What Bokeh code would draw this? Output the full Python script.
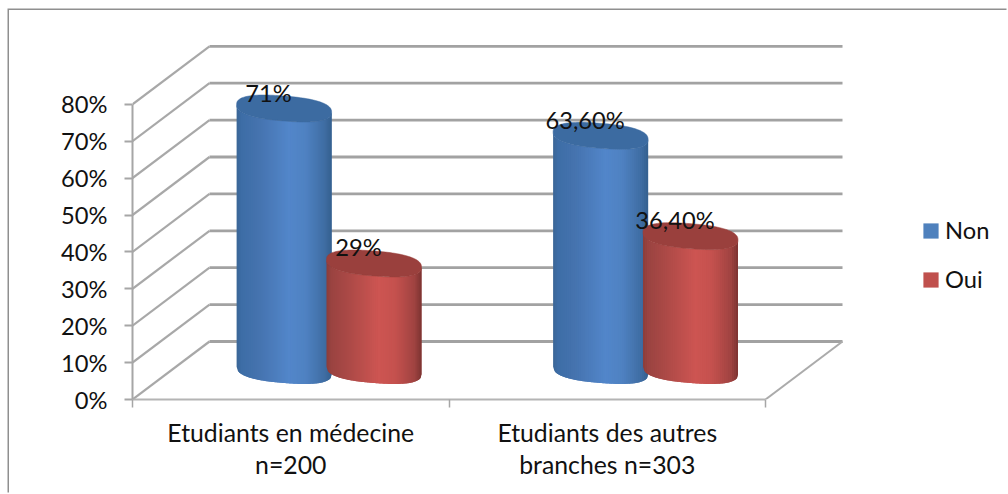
import numpy as np
from bokeh.core.properties import value
from bokeh.embed import file_html
from bokeh.models import FixedTicker, Legend, LegendItem, LinearAxis, Range1d
from bokeh.plotting import figure
from bokeh.resources import INLINE

# Survey results, in percent
categories = ["Etudiants en médecine\nn=200", "Etudiants des autres\nbranches n=303"]
series_names = ["Non", "Oui"]
non_values = [71.0, 63.6]
oui_values = [29.0, 36.4]
value_labels = [["71%", "63,60%"], ["29%", "36,40%"]]
percent_ticks = [0, 10, 20, 30, 40, 50, 60, 70, 80]

PX_PER_CAT = 316.5
PX_PER_PCT = 3.69
FONT = "Lato"
FONT_SIZE = "23.7px"
CAT_FONT_SIZE = "24.8px"
TEXT = "#111111"
MARGIN_TOP = 10
MARGIN_LEFT = 9

p = figure(width=1008 - MARGIN_LEFT, height=494 - MARGIN_TOP,
           output_backend="svg", toolbar_location=None,
           x_range=Range1d(0, (1008 - 132) / PX_PER_CAT),
           y_range=Range1d(0, (399 - MARGIN_TOP) / PX_PER_PCT),
           x_axis_type=None, y_axis_type=None,
           min_border_left=132 - MARGIN_LEFT, min_border_right=0,
           min_border_top=0, min_border_bottom=95,
           margin=(MARGIN_TOP, 0, 0, MARGIN_LEFT),
           styles={"box-shadow": "-1.5px -1.5px 0 #8f8f8f"})
p.outline_line_color = None
p.grid.visible = False
p.background_fill_color = "white"
p.border_fill_color = "white"

# Value axis on the front edge of the left wall
y_axis = LinearAxis(ticker=FixedTicker(ticks=percent_ticks), bounds=(0, 80),
                    major_label_overrides={t: f"{t}%" for t in percent_ticks})
y_axis.axis_line_color = "#a6a6a6"
y_axis.axis_line_width = 2
y_axis.major_tick_line_color = "#a6a6a6"
y_axis.major_tick_line_width = 2
y_axis.major_tick_out = 8
y_axis.major_tick_in = 0
y_axis.minor_tick_line_color = None
y_axis.major_label_standoff = 17
y_axis.major_label_text_font = FONT
y_axis.major_label_text_font_size = FONT_SIZE
y_axis.major_label_text_color = TEXT
p.add_layout(y_axis, "left")

# Category separators along the front of the floor
x_axis = LinearAxis(ticker=FixedTicker(ticks=[0, 1, 2]), bounds=(0, 2),
                    major_label_overrides={0: "", 1: "", 2: ""})
x_axis.axis_line_color = "#b4b4b4"
x_axis.axis_line_width = 2
x_axis.major_tick_line_color = "#a6a6a6"
x_axis.major_tick_line_width = 1.5
x_axis.major_tick_out = 8
x_axis.major_tick_in = 0
x_axis.minor_tick_line_color = None
x_axis.major_label_text_font_size = "1px"
x_axis.major_label_standoff = 0
p.add_layout(x_axis, "below")

# Category names, centred between the separators
cat_axis = LinearAxis(ticker=FixedTicker(ticks=[0.5, 1.5]),
                      major_label_overrides={0.5: categories[0], 1.5: categories[1]})
cat_axis.axis_line_color = None
cat_axis.major_tick_line_color = None
cat_axis.minor_tick_line_color = None
cat_axis.major_label_standoff = 4
cat_axis.major_label_text_font = FONT
cat_axis.major_label_text_font_size = CAT_FONT_SIZE
cat_axis.major_label_text_color = TEXT
cat_axis.major_label_text_line_height = 1.13
p.add_layout(cat_axis, "below")

# Depth of the box, in data units
DX = 77 / PX_PER_CAT
DY = 58 / PX_PER_PCT

# Walls: each level runs back from the axis, then across the back
for t in percent_ticks:
    p.line([0, DX], [t, t + DY], line_color="#a8a8a8", line_width=2.2)
    p.line([DX, 2 + DX], [t + DY, t + DY], line_color="#a2a2a2", line_width=2.8)
p.line([2, 2 + DX], [0, DY], line_color="#ababab", line_width=2)

# Cylinders are built from narrow shaded strips plus a darker top cap
A = 47.5 / PX_PER_CAT
B = 12.5 / PX_PER_PCT
TILT = 3.8 / PX_PER_PCT
ROUND = 2.5  # above 2 the rims get fuller shoulders than a plain ellipse
BASE = 29 / PX_PER_PCT
OFFSETS = [0.479, 0.763]
STRIPS = 48

SHADES = {
    "Non": ([-1, -0.9, -0.5, 0.1, 0.45, 0.85, 1],
            ["#3a6596", "#3d6da6", "#4674b0", "#5286ca", "#4f82c2", "#3f6da3", "#35608f"],
            "#3c6ba1"),
    "Oui": ([-1, -0.9, -0.5, 0.1, 0.45, 0.85, 1],
            ["#8b3d3a", "#9a4341", "#ad4a47", "#cd5552", "#c5514e", "#a04341", "#7c3331"],
            "#9a403d"),
}


def rgb(hex_colour):
    return [int(hex_colour[i:i + 2], 16) for i in (1, 3, 5)]


def shade(name, u):
    stops, cols, _ = SHADES[name]
    channels = [np.interp(u, stops, [rgb(c)[k] for c in cols]) for k in range(3)]
    return "#%02x%02x%02x" % tuple(int(round(c)) for c in channels)


def rim(u):
    return B * np.clip(1 - np.abs(u) ** ROUND, 0, 1) ** (1 / ROUND)


def draw_cylinder(name, cx, height):
    # Each strip reaches two steps to the right and the next one paints over
    # the overlap, which keeps seams from showing between neighbours.
    edges = np.linspace(-1, 1, STRIPS + 1)
    xs, ys, colours = [], [], []
    for i in range(STRIPS):
        u = np.linspace(edges[i], edges[min(i + 2, STRIPS)], 4)
        x = cx + A * u
        low = BASE - TILT * u - rim(u)
        xs.append(list(x) + list(x[::-1]))
        ys.append(list(low) + list((low + height)[::-1]))
        colours.append(shade(name, float((edges[i] + edges[i + 1]) / 2)))
    p.patches(xs, ys, fill_color=colours, line_color=None)
    # Top cap outline: forward along the upper rim, back along the lower one
    u = -np.cos(np.linspace(0, np.pi, 60))
    cap_x = cx + A * np.concatenate([u, u[::-1]])
    cap_y = BASE + height + np.concatenate([-TILT * u + rim(u), -TILT * u[::-1] - rim(u[::-1])])
    p.patch(cap_x, cap_y, fill_color=SHADES[name][2], line_color=SHADES[name][2], line_width=0.5)


for g in range(len(categories)):
    draw_cylinder("Non", g + OFFSETS[0], non_values[g])
    draw_cylinder("Oui", g + OFFSETS[1], oui_values[g])

# Value labels sit above each cap, slightly left of its centre
for s, vals in enumerate([non_values, oui_values]):
    p.text([g + OFFSETS[s] - 15.5 / PX_PER_CAT for g in range(len(vals))],
           [BASE + v + 16 / PX_PER_PCT for v in vals],
           text=value_labels[s], text_align="center", text_baseline="middle",
           text_font=value(FONT), text_font_size=FONT_SIZE, text_color=TEXT)

# Legend keys: placeholders that only lend their colour to the legend
key_non = p.quad(left=[np.nan], right=[np.nan], top=[np.nan], bottom=[np.nan],
                 fill_color="#4f81bd", line_color=None)
key_oui = p.quad(left=[np.nan], right=[np.nan], top=[np.nan], bottom=[np.nan],
                 fill_color="#c0504d", line_color=None)
legend = Legend(items=[LegendItem(label=series_names[0], renderers=[key_non]),
                       LegendItem(label=series_names[1], renderers=[key_oui])],
                location=(789, 106), orientation="vertical",
                glyph_width=19, glyph_height=19, label_standoff=5, spacing=21,
                padding=0, margin=0, border_line_color=None, background_fill_color=None,
                label_text_font=FONT, label_text_font_size=FONT_SIZE, label_text_color=TEXT)
p.add_layout(legend, "center")

open("out.html", "w").write(file_html(p, INLINE))
